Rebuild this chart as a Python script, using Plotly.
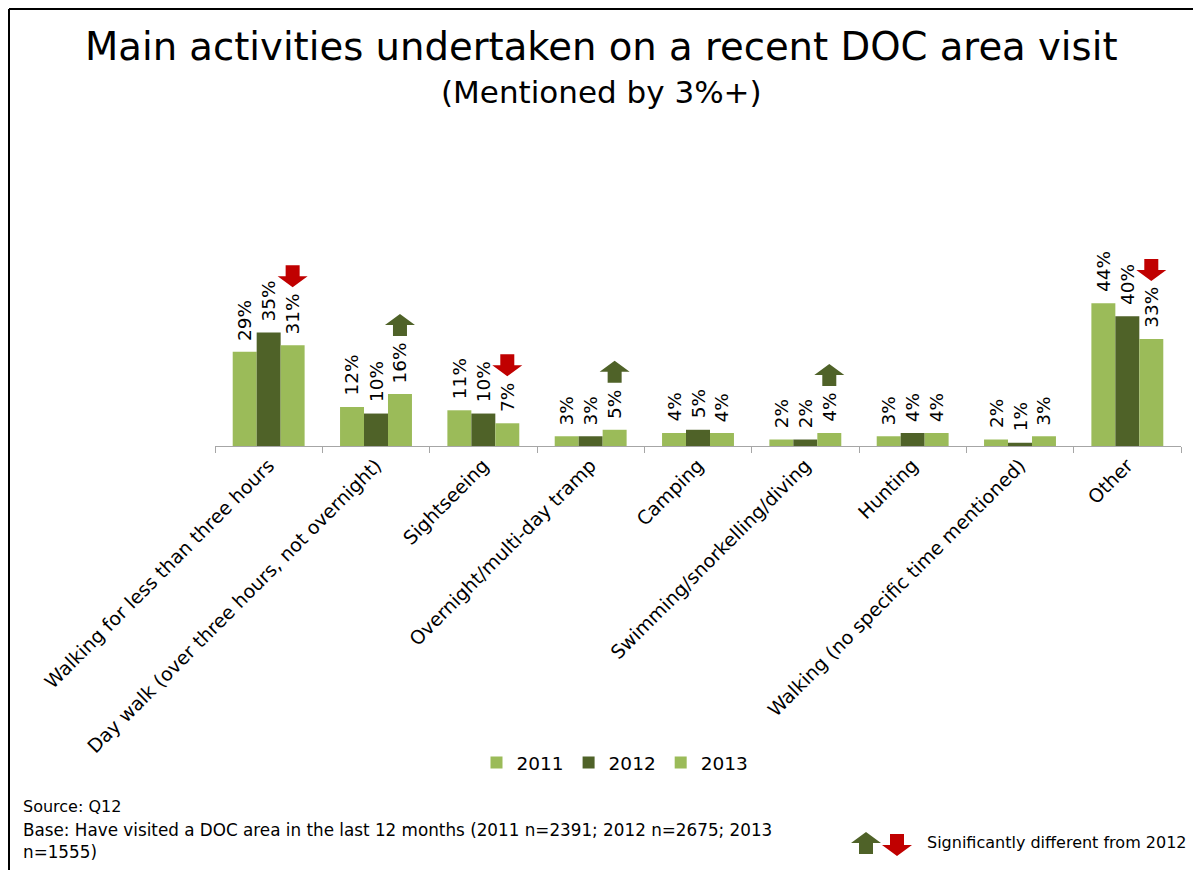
import plotly.graph_objects as go

categories = [
    "Walking for less than three hours",
    "Day walk (over three hours, not overnight)",
    "Sightseeing",
    "Overnight/multi-day tramp",
    "Camping",
    "Swimming/snorkelling/diving",
    "Hunting",
    "Walking (no specific time mentioned)",
    "Other",
]
years = ["2011", "2012", "2013"]
v2011 = [29, 12, 11, 3, 4, 2, 3, 2, 44]
v2012 = [35, 10, 10, 3, 5, 2, 4, 1, 40]
v2013 = [31, 16, 7, 5, 4, 4, 4, 3, 33]
sig2013 = ["down", "up", "down", "up", None, "up", None, None, "down"]

LIGHT = "#9BBB59"
DARK = "#4F6228"
RED = "#C00000"
FONT = "DejaVu Sans"

# page has an 8px body margin; figure is sized to fit the 1201x870 window
OFF = 8
W, H = 1201 - OFF, 870 - OFF
BASE_PAGE = 446          # page y of the axis baseline
LEFT_PAGE, RIGHT_PAGE = 215, 1181
YMAX = 65
PH = 211
ML = LEFT_PAGE - OFF
MR = 1201 - RIGHT_PAGE
MB = 870 - BASE_PAGE
MT = H - MB - PH
PW = W - ML - MR


def px_x(p):
    return (p - OFF - ML) / PW


def px_y(p):
    return (H - MB - (p - OFF)) / PH


series = [v2011, v2012, v2013]
colors = [LIGHT, DARK, LIGHT]
BARGAP = 0.33
bw = (1 - BARGAP) / 3
offsets = [-bw, 0, bw]

fig = go.Figure()
for name, vals, col in zip(years, series, colors):
    fig.add_trace(go.Bar(
        x=categories, y=vals, name=name, marker=dict(color=col, line=dict(width=0)),
        hoverinfo="skip",
    ))

annotations = []
for vals, off in zip(series, offsets):
    for i, v in enumerate(vals):
        annotations.append(dict(
            x=i + off, y=v, xref="x", yref="y", text=f"{v}%", showarrow=False,
            textangle=-90, yanchor="bottom", xanchor="center", yshift=9,
            font=dict(family=FONT, size=18.5, color="#000000"),
        ))


def arrow_path(direction, base):
    # pixel coordinates relative to anchor, y positive upward
    hw, sw, hh, total = 15, 7, 11, 22
    if direction == "down":
        pts = [(0, base), (-hw, base + hh), (-sw, base + hh), (-sw, base + total),
               (sw, base + total), (sw, base + hh), (hw, base + hh)]
    else:
        pts = [(0, base + total), (-hw, base + hh), (-sw, base + hh), (-sw, base),
               (sw, base), (sw, base + hh), (hw, base + hh)]
    return "M" + " L".join(f"{x},{y}" for x, y in pts) + " Z"


shapes = []
for i, d in enumerate(sig2013):
    if d is None:
        continue
    n = len(f"{v2013[i]}%")
    base = 25 + 11 * n
    shapes.append(dict(
        type="path", xref="x", yref="y", xsizemode="pixel", ysizemode="pixel",
        xanchor=i + bw, yanchor=v2013[i], path=arrow_path(d, base),
        fillcolor=DARK if d == "up" else RED, line=dict(width=0),
    ))

# footer legend arrows
shapes.append(dict(
    type="path", xref="paper", yref="paper", xsizemode="pixel", ysizemode="pixel",
    xanchor=px_x(866), yanchor=px_y(854), path=arrow_path("up", 0),
    fillcolor=DARK, line=dict(width=0),
))
shapes.append(dict(
    type="path", xref="paper", yref="paper", xsizemode="pixel", ysizemode="pixel",
    xanchor=px_x(897), yanchor=px_y(856), path=arrow_path("down", 0),
    fillcolor=RED, line=dict(width=0),
))

# frame lines
shapes.append(dict(type="line", xref="paper", yref="paper",
                   x0=px_x(9), x1=px_x(1210), y0=px_y(9), y1=px_y(9),
                   line=dict(color="#000000", width=2)))
shapes.append(dict(type="line", xref="paper", yref="paper",
                   x0=px_x(9), x1=px_x(9), y0=px_y(9), y1=px_y(880),
                   line=dict(color="#000000", width=2)))

annotations += [
    dict(x=px_x(601), y=px_y(47), xref="paper", yref="paper", showarrow=False,
         text="Main activities undertaken on a recent DOC area visit",
         font=dict(family=FONT, size=38.6, color="#000000"), xanchor="center", yanchor="middle"),
    dict(x=px_x(601), y=px_y(92), xref="paper", yref="paper", showarrow=False,
         text="(Mentioned by 3%+)",
         font=dict(family=FONT, size=31, color="#000000"), xanchor="center", yanchor="middle"),
    dict(x=px_x(21), y=px_y(806), xref="paper", yref="paper", showarrow=False,
         text="Source: Q12", align="left",
         font=dict(family=FONT, size=16, color="#000000"), xanchor="left", yanchor="middle"),
    dict(x=px_x(21), y=px_y(841), xref="paper", yref="paper", showarrow=False,
         text="Base: Have visited a DOC area in the last 12 months (2011 n=2391; 2012 n=2675; 2013<br>n=1555)",
         align="left",
         font=dict(family=FONT, size=16.8, color="#000000"), xanchor="left", yanchor="middle"),
    dict(x=px_x(925), y=px_y(842), xref="paper", yref="paper", showarrow=False,
         text="Significantly different from 2012", align="left",
         font=dict(family=FONT, size=16, color="#000000"), xanchor="left", yanchor="middle"),
]

fig.update_layout(
    width=W, height=H,
    margin=dict(l=ML, r=MR, t=MT, b=MB, pad=0),
    paper_bgcolor="white", plot_bgcolor="white",
    barmode="group", bargap=BARGAP, bargroupgap=0,
    showlegend=True,
    legend=dict(orientation="h", x=px_x(615), y=px_y(763), xanchor="center", yanchor="middle",
                font=dict(family=FONT, size=18.5, color="#000000"), itemwidth=30,
                traceorder="normal"),
    annotations=annotations,
    shapes=shapes,
    font=dict(family=FONT, color="#000000"),
)
fig.update_xaxes(
    type="category", tickson="boundaries", ticks="outside", ticklen=6,
    tickcolor="#A6A6A6", showline=True, linecolor="#A6A6A6", linewidth=1,
    tickangle=-45, tickfont=dict(family=FONT, size=19, color="#000000"),
    showgrid=False, zeroline=False,
)
fig.update_yaxes(range=[0, YMAX], visible=False, showgrid=False, zeroline=False)

fig.write_html("out.html")
